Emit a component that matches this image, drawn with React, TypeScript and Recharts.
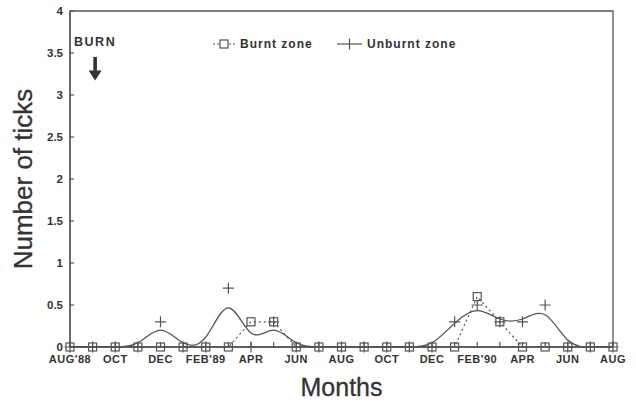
import React from 'react';
import { LineChart, Line, XAxis, YAxis, Legend, ReferenceArea, ReferenceDot, Label } from 'recharts';

// monthly samples, Aug'88 .. Aug'90
const months = ['AUG', 'SEP', 'OCT', 'NOV', 'DEC', 'JAN', 'FEB', 'MAR', 'APR', 'MAY', 'JUN', 'JUL',
    'AUG', 'SEP', 'OCT', 'NOV', 'DEC', 'JAN', 'FEB', 'MAR', 'APR', 'MAY', 'JUN', 'JUL', 'AUG'];
const burnt = [0, 0, 0, 0, 0, 0, 0, 0, 0.3, 0.3, 0, 0, 0, 0, 0, 0, 0, 0, 0.6, 0.3, 0, 0, 0, 0, 0];
const unburnt = [0, 0, 0, 0, 0.3, 0, 0, 0.7, 0, 0.3, 0, 0, 0, 0, 0, 0, 0, 0.3, 0.5, 0.3, 0.3, 0.5, 0, 0, 0];
const tickLabels = ["AUG'88", 'OCT', 'DEC', "FEB'89", 'APR', 'JUN', 'AUG', 'OCT', 'DEC', "FEB'90", 'APR', 'JUN', 'AUG'];
const yTicks = [0, 0.5, 1, 1.5, 2, 2.5, 3, 3.5, 4];

const data = months.map((month, i) => ({ m: i, month, burnt: burnt[i], unburnt: unburnt[i] }));
const monthTicks = months.map((_, i) => i);

const FONT = '"Liberation Sans", Arial, sans-serif';
const INK = '#333';
const LINE = '#555';

const XTick = (props: any) => {
    const { x, y, index } = props;
    const label = index % 2 === 0 ? tickLabels[index / 2] : null;
    return (
        <g>
            <line x1={x} x2={x} y1={y} y2={y - 5} stroke={LINE} strokeWidth={1.2} />
            {label && (
                <text x={x} y={y + 16} textAnchor="middle" fontFamily={FONT} fontSize={11} fontWeight="bold" letterSpacing={0.5} fill={INK}>
                    {label}
                </text>
            )}
        </g>
    );
};

const YTick = (props: any) => {
    const { x, y, payload } = props;
    return (
        <g>
            <line x1={x} x2={x + 4} y1={y} y2={y} stroke={LINE} strokeWidth={1.2} />
            <text x={x - 7} y={y + 3.5} textAnchor="end" fontFamily={FONT} fontSize={11.5} fontWeight="bold" fill={INK}>
                {payload.value}
            </text>
        </g>
    );
};

const SquareDot = (props: any) => {
    const { cx, cy, index } = props;
    return <rect key={index} x={cx - 4} y={cy - 4} width={8} height={8} fill="none" stroke={LINE} strokeWidth={1.2} />;
};

const PlusDot = (props: any) => {
    const { cx, cy, index } = props;
    return <path key={index} d={`M${cx - 5.5},${cy}h11M${cx},${cy - 5.5}v11`} stroke={LINE} strokeWidth={1.2} fill="none" />;
};

const renderLegend = () => (
    <svg width={270} height={20}>
        <line x1={3} x2={25} y1={10} y2={10} stroke={LINE} strokeWidth={1.2} strokeDasharray="2 2" />
        <rect x={10} y={6} width={8} height={8} fill="#fff" stroke={LINE} strokeWidth={1.2} />
        <text x={30} y={14} fontFamily={FONT} fontSize={12} fontWeight="bold" letterSpacing={1} fill={INK}>Burnt zone</text>
        <line x1={127} x2={152} y1={10} y2={10} stroke={LINE} strokeWidth={1.2} />
        <line x1={139.5} x2={139.5} y1={4.5} y2={15.5} stroke={LINE} strokeWidth={1.2} />
        <text x={157} y={14} fontFamily={FONT} fontSize={12} fontWeight="bold" letterSpacing={1} fill={INK}>Unburnt zone</text>
    </svg>
);

const BurnMark = (props: any) => {
    const { cx, cy } = props;
    const ax = cx + 2.5;
    return (
        <g>
            <text x={ax} y={cy + 5.5} textAnchor="middle" fontFamily={FONT} fontSize={12.5} fontWeight="bold" letterSpacing={1.5} fill={INK}>BURN</text>
            <rect x={ax - 1.8} y={cy + 16.5} width={3.6} height={14} fill={INK} />
            <polygon points={`${ax - 6.5},${cy + 30} ${ax + 6.5},${cy + 30} ${ax},${cy + 40}`} fill={INK} />
        </g>
    );
};

const YLabel = (props: any) => {
    const { viewBox } = props;
    const cy = viewBox.y + viewBox.height / 2;
    const bx = 32;
    return (
        <text x={bx} y={cy} transform={`rotate(-90 ${bx} ${cy})`} textAnchor="middle" fontFamily={FONT} fontSize={26} fill={INK} stroke={INK} strokeWidth={0.3}>
            Number of ticks
        </text>
    );
};

export default function App() {
    return (
        <div style={{ position: 'absolute', left: 0, top: 0, width: 636, height: 402, background: '#fff' }}>
            <LineChart width={636} height={402} data={data} margin={{ top: 11, right: 23, left: 0, bottom: 0 }}>
                <XAxis
                    type="number"
                    dataKey="m"
                    domain={[0, 24]}
                    ticks={monthTicks}
                    interval={0}
                    height={55}
                    tickSize={0}
                    tickMargin={0}
                    tick={<XTick />}
                    axisLine={{ stroke: LINE, strokeWidth: 1.3 }}
                    tickLine={false}
                >
                    <Label value="Months" position="insideBottom" offset={6} fontFamily={FONT} fontSize={25} fill={INK} stroke={INK} strokeWidth={0.3} />
                </XAxis>
                <YAxis
                    type="number"
                    domain={[0, 4]}
                    ticks={yTicks}
                    width={70}
                    tickSize={0}
                    tickMargin={0}
                    tick={<YTick />}
                    axisLine={{ stroke: LINE, strokeWidth: 1.3 }}
                    tickLine={false}
                >
                    <Label content={<YLabel />} />
                </YAxis>
                <ReferenceArea x1={0} x2={24} y1={0} y2={4} fill="none" stroke={LINE} strokeWidth={1.3} />
                <ReferenceDot x={1} y={3.65} r={0} shape={<BurnMark />} />
                <Legend
                    layout="horizontal"
                    verticalAlign="middle"
                    align="center"
                    content={renderLegend}
                    wrapperStyle={{ top: 34, left: 210, width: 270, height: 20 }}
                />
                <Line
                    type="linear"
                    dataKey="burnt"
                    stroke={LINE}
                    strokeWidth={1.2}
                    strokeDasharray="2 3"
                    dot={<SquareDot />}
                    activeDot={false}
                    isAnimationActive={false}
                />
                <Line
                    type="basis"
                    dataKey="unburnt"
                    stroke={LINE}
                    strokeWidth={1.3}
                    dot={<PlusDot />}
                    activeDot={false}
                    isAnimationActive={false}
                />
            </LineChart>
        </div>
    );
}
